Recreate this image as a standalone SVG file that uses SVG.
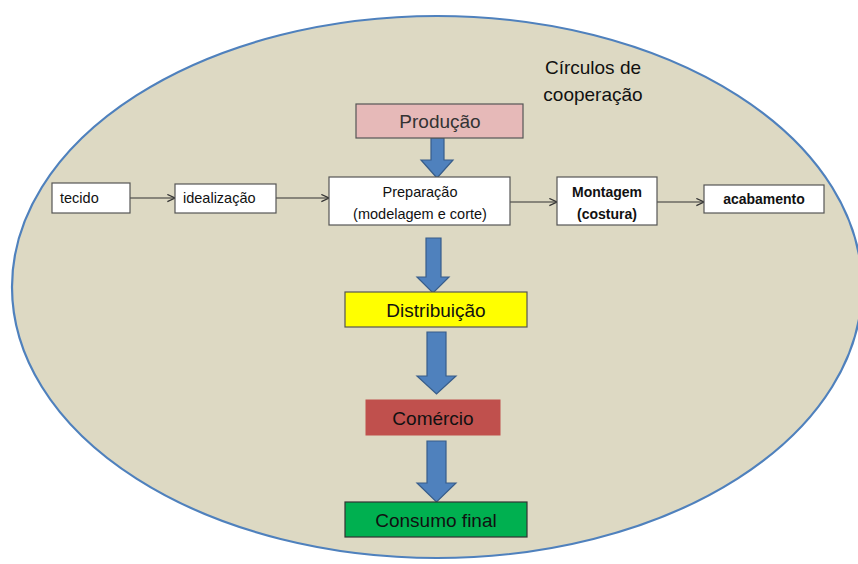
<svg xmlns="http://www.w3.org/2000/svg" width="858" height="564" viewBox="0 0 858 564">
<defs>
<marker id="open" viewBox="0 0 10 10" refX="9.5" refY="5" markerWidth="9" markerHeight="9" markerUnits="userSpaceOnUse" orient="auto">
<path d="M1,1 L9.5,5 L1,9" fill="none" stroke="#333" stroke-width="1.3"/>
</marker>
</defs>
<style>
.bg{fill:#DDD9C3;stroke:#4F81BD;stroke-width:2.2}
.wb{fill:#fff;stroke:#555;stroke-width:1.2}
.t{font-family:"Liberation Sans",Arial,sans-serif;fill:#111;text-anchor:middle}
.s{font-size:14.5px}
.b{font-weight:bold;font-size:14px}
.l{font-size:19px}
.blk{fill:#4F81BD;stroke:#385D8A;stroke-width:1.2}
.ln{fill:none;stroke:#333;stroke-width:1.2;marker-end:url(#open)}
</style>
<rect width="858" height="564" fill="#fff"/>
<ellipse class="bg" cx="437" cy="287" rx="425" ry="271"/>
<text class="t l" x="593" y="74">Círculos de</text>
<text class="t l" x="593" y="101">cooperação</text>
<g id="connectors">
<line class="ln" x1="130" y1="198" x2="175" y2="198"/>
<line class="ln" x1="276" y1="198" x2="329" y2="198"/>
<line class="ln" x1="510" y1="202" x2="557" y2="202"/>
<line class="ln" x1="657" y1="202" x2="704" y2="202"/>
<path class="blk" d="M431,138 H444 V160 H453 L437,178 L421,160 H431 Z"/>
<path class="blk" d="M426,238 H441 V277 H449 L433,293 L417,277 H426 Z"/>
<path class="blk" d="M427,332 H446 V376 H456 L436.5,394 L417,376 H427 Z"/>
<path class="blk" d="M427,441 H446 V483 H456 L436.5,502 L417,483 H427 Z"/>
</g>
<g id="tecido">
<rect class="wb" x="52" y="183" width="78" height="30"/>
<text class="t s" x="60" y="203" style="text-anchor:start">tecido</text>
</g>
<g id="idealizacao">
<rect class="wb" x="175" y="184" width="101" height="29"/>
<text class="t s" x="183" y="203" style="text-anchor:start">idealização</text>
</g>
<g id="preparacao">
<rect class="wb" x="329" y="177" width="181" height="48"/>
<text class="t s" x="420" y="197">Preparação</text>
<text class="t s" x="420" y="219">(modelagem e corte)</text>
</g>
<g id="montagem">
<rect class="wb" x="557" y="177" width="100" height="48"/>
<text class="t s b" x="607" y="197">Montagem</text>
<text class="t s b" x="607" y="219">(costura)</text>
</g>
<g id="acabamento">
<rect class="wb" x="704" y="185" width="120" height="28"/>
<text class="t s b" x="764" y="204">acabamento</text>
</g>
<g id="producao">
<rect x="356" y="104" width="167" height="34" fill="#E6B9B8" stroke="#555" stroke-width="1.2"/>
<text class="t l" x="440" y="128" style="fill:#333">Produção</text>
</g>
<g id="distribuicao">
<rect x="345" y="292" width="182" height="35" fill="#FFFF00" stroke="#555" stroke-width="1.2"/>
<text class="t l" x="436" y="317">Distribuição</text>
</g>
<g id="comercio">
<rect x="366" y="400" width="134" height="35" fill="#C0504D" stroke="#C0504D" stroke-width="1"/>
<text class="t l" x="433" y="425">Comércio</text>
</g>
<g id="consumo">
<rect x="345" y="502" width="182" height="35" fill="#00B050" stroke="#333" stroke-width="1.2"/>
<text class="t l" x="436" y="527">Consumo final</text>
</g>
</svg>
